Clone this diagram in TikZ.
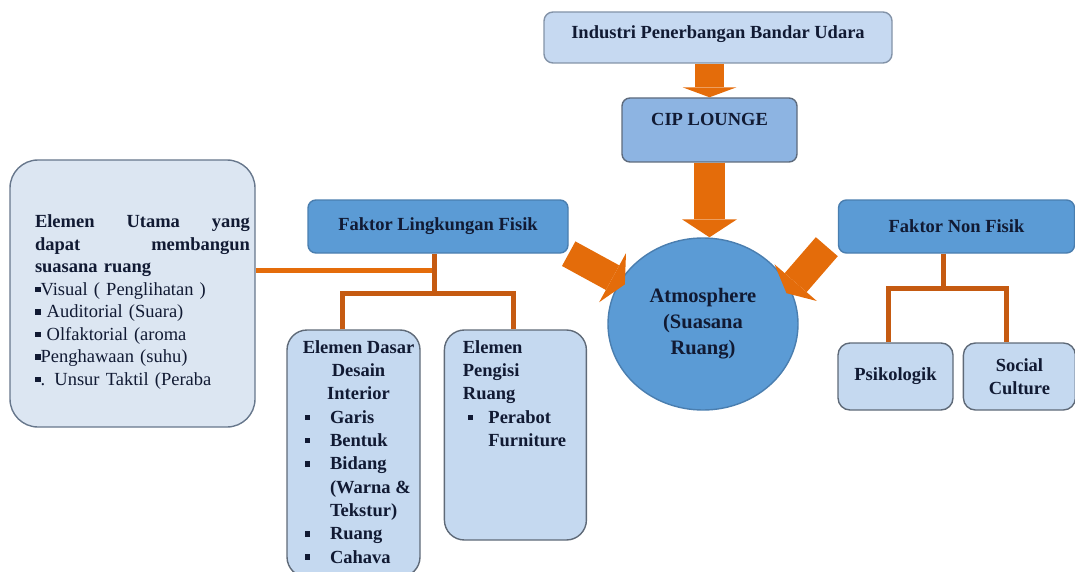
\documentclass[tikz,border=0pt]{standalone}
\usepackage{fontspec}
\setmainfont{Liberation Serif}
\usetikzlibrary{arrows.meta,positioning,shapes.geometric}

\definecolor{arroworange}{HTML}{E46C0A}
\definecolor{treebrown}{HTML}{C55A11}
\definecolor{inknavy}{HTML}{111A33}
\definecolor{palefill}{HTML}{C6D9F1}
\definecolor{paleline}{HTML}{8393A8}
\definecolor{cipfill}{HTML}{8DB4E2}
\definecolor{cipline}{HTML}{5E6B7D}
\definecolor{factfill}{HTML}{5B9BD5}
\definecolor{factline}{HTML}{4A7EAF}
\definecolor{subfill}{HTML}{C5D9F0}
\definecolor{subline}{HTML}{5F6A78}
\definecolor{mainfill}{HTML}{DCE6F2}
\definecolor{mainline}{HTML}{67778C}

\newcommand{\blt}{\rule[0.17em]{0.3em}{0.3em}}
\newcommand{\dasaritem}[1]{\makebox[108pt][l]{\blt\hspace{20pt}#1}}
\newcommand{\dasarcont}[1]{\makebox[108pt][l]{\hspace{25.5pt}#1}}

\begin{document}
\begin{tikzpicture}[
    x=1pt, y=-1pt,
    font=\fontsize{18.5}{23}\selectfont\bfseries,
    text=inknavy,
    box/.style={line width=1.4pt, inner sep=0pt, align=center},
    factor/.style={box, draw=factline, fill=factfill, rounded corners=8pt},
    subbox/.style={box, draw=subline, fill=subfill, rounded corners=14pt},
    txt/.style={inner sep=0pt, align=left},
    listfont/.style={font=\fontsize{18.5}{23.3}\selectfont\bfseries},
    blockarrow/.style={draw=arroworange, line width=29pt,
                       -{Triangle[length=14pt, width=56pt, line width=0pt]}},
    treeline/.style={draw=treebrown, line width=5pt},
    linkline/.style={draw=arroworange, line width=5pt}
  ]
  \path[use as bounding box, clip] (0,0) rectangle (1075,572);
  % centre column
  \node[box, draw=paleline, fill=palefill, rounded corners=9pt,
        minimum width=348pt, minimum height=51pt, text height=13pt, text depth=10pt]
        (industri) at (718,37.5) {Industri Penerbangan Bandar Udara};
  \node[box, draw=cipline, fill=cipfill, rounded corners=8pt,
        minimum width=175pt, minimum height=64pt, text height=13pt, text depth=21pt]
        (cip) at (709.5,130) {CIP LOUNGE};
  \node[ellipse, draw=factline, fill=factfill, line width=1.4pt, inner sep=0pt,
        minimum width=190pt, minimum height=172pt, align=center,
        font=\fontsize{20.5}{26}\selectfont\bfseries]
        (atmos) at (703,324) {Atmosphere\\(Suasana\\Ruang)};
  % physical factors
  \node[factor, minimum width=260pt, minimum height=53pt] (lingkungan) at (438,226.5) {Faktor Lingkungan Fisik};
  \node[subbox, rounded corners=20pt, minimum width=133pt, minimum height=247pt] (dasar) at (353.5,453.5) {};
  \node[txt, listfont, align=center, anchor=north] (dasartxt) at ([shift={(5pt,-11pt)}]dasar.north)
        {Elemen Dasar\\Desain\\Interior\\\dasaritem{Garis}\\\dasaritem{Bentuk}\\\dasaritem{Bidang}\\
         \dasarcont{(Warna \&}\\\dasarcont{Tekstur)}\\\dasaritem{Ruang}\\\dasaritem{Cahava}};
  \node[subbox, rounded corners=20pt, minimum width=142pt, minimum height=210pt,
        right=23pt of dasar.north east, anchor=north west] (pengisi) {};
  \node[txt, listfont, anchor=north west] (pengisitxt) at ([shift={(19pt,-11pt)}]pengisi.north west)
        {Elemen\\Pengisi\\Ruang\\\hspace*{5pt}\blt\hspace{15pt}Perabot\\\hspace*{25.5pt}Furniture};
  % main elements
  \node[box, draw=mainline, fill=mainfill, rounded corners=28pt,
        minimum width=245pt, minimum height=267pt] (utama) at (132.5,293.5) {};
  \node[txt, text width=215pt, font=\fontsize{18.5}{22.5}\selectfont\bfseries] (utamatxt) at (142.5,302)
        {\makebox[215pt][s]{Elemen\hfill Utama\hfill yang}\\
         \makebox[215pt][s]{dapat\hfill membangun}\\
         suasana ruang\\
         \mdseries\blt Visual ( Penglihatan )\\
         \blt\ Auditorial (Suara)\\
         \blt\ Olfaktorial (aroma\\
         \blt Penghawaan (suhu)\\
         \blt. Unsur Taktil (Peraba};
  % non-physical factors
  \node[factor, minimum width=236pt, minimum height=53pt] (nonfisik) at (956.5,226.5) {Faktor Non Fisik};
  \node[subbox, rounded corners=12pt, minimum width=115pt, minimum height=67pt] (psiko) at (895.5,376.5) {Psikologik};
  \node[subbox, rounded corners=12pt, minimum width=112pt, minimum height=67pt, right=9pt of psiko] (social) {Social\\Culture};
  % block arrows
  \draw[blockarrow, -{Triangle[length=10pt, width=54pt, line width=0pt]}] (cip.north |- industri.south) -- (cip.north);
  \draw[blockarrow, line width=31pt, -{Triangle[length=18pt, width=55pt, line width=0pt]}] (cip.south) -- (cip.south |- atmos.north);
  \draw[blockarrow, line width=28pt, shorten >=-6pt] (lingkungan.south east) -- (atmos.153);
  \draw[blockarrow, shorten >=-6pt] ([shift={(-11pt,7pt)}]nonfisik.south west) -- (atmos.22);
  % tree lines
  \coordinate (lstem) at ([xshift=-4pt]lingkungan.south);
  \coordinate (lhook) at ([yshift=-17pt]lstem);
  \draw[linkline] (utama.east |- lhook) -- (lhook);
  \draw[treeline] (lstem) -- ++(0,40) coordinate (ljoin);
  \draw[treeline] ([xshift=-11.5pt]dasar.north) |- (ljoin) -| ([xshift=-2pt]pengisi.north);
  \draw[treeline] ([xshift=-13.5pt]nonfisik.south) -- ++(0,35) coordinate (njoin);
  \draw[treeline] ([xshift=-7.5pt]psiko.north) |- (njoin) -| ([xshift=-13pt]social.north);
\end{tikzpicture}
\end{document}
